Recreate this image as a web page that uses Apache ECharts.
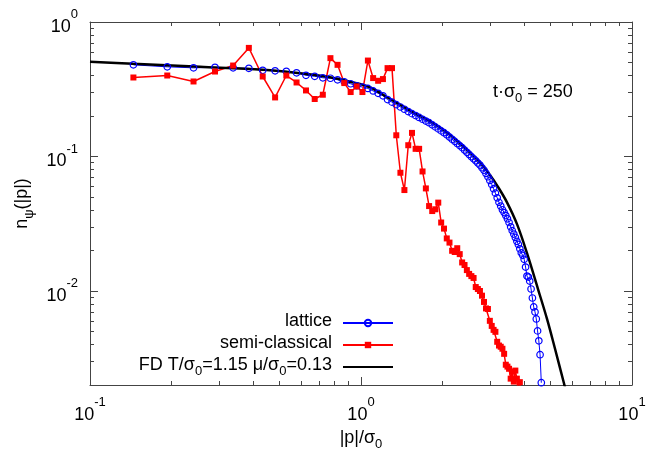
<!DOCTYPE html>
<html>
<head>
<meta charset="utf-8">
<script src="https://cdn.jsdelivr.net/npm/echarts@6/dist/echarts.min.js"></script>
<style>
  html, body { margin: 0; padding: 0; background: #fff; }
  #chart { width: 662px; height: 463px; }
</style>
</head>
<body>
<div id="chart"></div>
<script>
  // momentum bins |p|/sigma0 shared by lattice and semi-classical data
  var pBins = [
    0.1446, 0.1928, 0.241, 0.2892, 0.3374, 0.3856, 0.4338, 0.482, 0.5302, 0.5784,
    0.6266, 0.6748, 0.723, 0.7712, 0.8194, 0.8676, 0.9158, 0.964, 1.0122, 1.0604,
    1.1086, 1.1568, 1.205, 1.2532, 1.3014, 1.3496, 1.3978, 1.446, 1.4942, 1.5424,
    1.5906, 1.6388, 1.687, 1.7352, 1.7834, 1.8316, 1.8798, 1.928, 1.9762, 2.0244,
    2.0726, 2.1208, 2.169, 2.2172, 2.2654, 2.3136, 2.3618, 2.41, 2.4582, 2.5064,
    2.5546, 2.6028, 2.651, 2.6992, 2.7474, 2.7956, 2.8438, 2.892, 2.9402, 2.9884,
    3.0366, 3.0848, 3.133, 3.1812, 3.2294, 3.2776, 3.3258, 3.374, 3.4222, 3.4704,
    3.5186, 3.5668, 3.615, 3.6632, 3.7114, 3.7596, 3.8078, 3.856, 3.9042, 3.9524,
    4.0006, 4.0488, 4.097, 4.1452, 4.1934, 4.2416, 4.2898, 4.338, 4.3862, 4.4344,
    4.4826, 4.5308, 4.579, 4.6272
  ];

  // lattice n(|p|)
  var latticeVals = [
    0.4803, 0.4642, 0.4563, 0.4603, 0.4563, 0.4524, 0.4372, 0.4335, 0.4298, 0.4190,
    0.4015, 0.3948, 0.3848, 0.3816, 0.3719, 0.3594, 0.3473, 0.3357, 0.3284, 0.3206,
    0.3072, 0.2949, 0.2826, 0.2652, 0.2536, 0.2430, 0.2334, 0.2245, 0.2159, 0.2083,
    0.2016, 0.1952, 0.1892, 0.1835, 0.1783, 0.1720, 0.1660, 0.1604, 0.1550, 0.1503,
    0.1450, 0.1395, 0.1343, 0.1296, 0.1249, 0.1205, 0.1164, 0.1117, 0.1074, 0.1036,
    0.0997, 0.0961, 0.0929, 0.0895, 0.0864, 0.0825, 0.0790, 0.0748, 0.0707, 0.0664,
    0.0620, 0.0576, 0.0534, 0.0493, 0.0456, 0.0428, 0.0402, 0.0383, 0.0364, 0.0344,
    0.0323, 0.0300, 0.0281, 0.0265, 0.0250, 0.0234, 0.0222, 0.0206, 0.0192, 0.0184,
    0.0172, 0.01506, 0.01292, 0.01270, 0.01186, 0.01035, 0.00887, 0.00761, 0.00699, 0.00620,
    0.00505, 0.00426, 0.00336, 0.00208
  ];

  // semi-classical n(|p|), first 79 bins
  var semiVals = [
    0.3867, 0.4001, 0.3612, 0.4283, 0.4746, 0.6419, 0.3934, 0.2749, 0.4001, 0.3551,
    0.3098, 0.2676, 0.2879, 0.5385, 0.4803, 0.3515, 0.3015, 0.3317, 0.3015, 0.5168,
    0.3828, 0.3656, 0.3763, 0.4540, 0.4540, 0.1438, 0.0757, 0.0563, 0.1213, 0.1498,
    0.1140, 0.1140, 0.0774, 0.0579, 0.0428, 0.0393, 0.0405, 0.0454, 0.0323, 0.0291,
    0.0246, 0.0229, 0.0199, 0.0195, 0.0208, 0.0188, 0.0163, 0.0156, 0.0143, 0.0134,
    0.0129, 0.0125, 0.0107, 0.01034, 0.0100, 0.00923, 0.00829, 0.00742, 0.00735, 0.00600,
    0.00550, 0.00514, 0.00497, 0.00419, 0.00393, 0.00385, 0.00372, 0.00341, 0.00283, 0.00274,
    0.00264, 0.00223, 0.00251, 0.00212, 0.00256, 0.00223, 0.0017, 0.0021, 0.0016
  ];

  // Fermi-Dirac fit curve
  var fdP = [0.1, 0.1441, 0.2546, 0.435, 0.5955, 0.768, 0.911, 1.079, 1.258, 1.555,
    1.798, 2.076, 2.378, 2.749, 2.992, 3.203, 3.457, 3.764, 4.098, 4.499,
    4.857, 5.199, 5.613, 5.71];
  var fdVals = [0.5056, 0.4885, 0.464, 0.4411, 0.4154, 0.3880, 0.3594, 0.3272, 0.2735, 0.2136,
    0.1832, 0.1506, 0.1196, 0.0903, 0.0729, 0.0594, 0.0456, 0.0314, 0.0191, 0.01034,
    0.0062, 0.00372, 0.00205, 0.00182];

  // tick positions
  var xMajor = [0.1, 1, 10];
  var xMinor = [0.2, 0.3, 0.4, 0.5, 0.6, 0.7, 0.8, 0.9, 2, 3, 4, 5, 6, 7, 8, 9];
  var yMajor = [0.01, 0.1, 1];
  var yMinor = [0.003, 0.004, 0.005, 0.006, 0.007, 0.008, 0.009,
    0.02, 0.03, 0.04, 0.05, 0.06, 0.07, 0.08, 0.09,
    0.2, 0.3, 0.4, 0.5, 0.6, 0.7, 0.8, 0.9];

  var FONT = "'Liberation Sans', Arial, Helvetica, sans-serif";
  var BORDER = '#444';
  var FD_NAME = 'FD T/σ0=1.15 μ/σ0=0.13';

  var supRich = {
    b: { fontFamily: FONT, fontSize: 18, lineHeight: 28, verticalAlign: 'bottom', color: '#000' },
    s: { fontFamily: FONT, fontSize: 13, lineHeight: 12, verticalAlign: 'top', color: '#000' }
  };
  var subRich = {
    t: { fontFamily: FONT, fontSize: 18, lineHeight: 22, verticalAlign: 'top', color: '#000', fill: '#000' },
    u: { fontFamily: FONT, fontSize: 13, lineHeight: 13, padding: [9, 0, 0, 0], verticalAlign: 'top', color: '#000', fill: '#000' },
    g: { fontFamily: FONT, fontSize: 18, lineHeight: 22, width: 6 }
  };
  var legendLabels = {
    'lattice': '{t|lattice}{g| }',
    'semi-classical': '{t|semi-classical}{g| }'
  };
  legendLabels[FD_NAME] = '{t|FD T/σ}{u|0}{t|=1.15 μ/σ}{u|0}{t|=0.13}{g| }';

  function powLabel(v) {
    var e = Math.round(Math.log(v) / Math.LN10);
    return '{b|10}{s|' + e + '}';
  }

  function zip(xs, ys) {
    var out = [];
    for (var i = 0; i < ys.length; i++) out.push([xs[i], ys[i]]);
    return out;
  }

  function xAxisDef(grid, pos, ticks, len, line) {
    return {
      type: 'log', logBase: 10, min: 0.1, max: 10, gridIndex: grid, position: pos,
      axisLine: { show: line, onZero: false, lineStyle: { color: BORDER, width: 1 } },
      axisTick: { show: true, inside: true, length: len, customValues: ticks, lineStyle: { color: BORDER, width: 1 } },
      axisLabel: { show: false },
      splitLine: { show: false }
    };
  }
  function yAxisDef(grid, pos, ticks, len, line) {
    return {
      type: 'log', logBase: 10, min: 0.002, max: 1, gridIndex: grid, position: pos,
      axisLine: { show: line, onZero: false, lineStyle: { color: BORDER, width: 1 } },
      axisTick: { show: true, inside: true, length: len, customValues: ticks, lineStyle: { color: BORDER, width: 1 } },
      axisLabel: { show: false },
      splitLine: { show: false }
    };
  }

  var xMain = xAxisDef(0, 'bottom', xMajor, 8, true);
  xMain.axisLabel = { show: true, customValues: xMajor, formatter: powLabel, margin: 11, rich: supRich };
  xMain.name = '{t||p|/σ}{u|0}';
  xMain.nameLocation = 'middle';
  xMain.nameGap = 39;
  xMain.nameTextStyle = { fontFamily: FONT, fontSize: 18, color: '#000', rich: subRich };

  var yMain = yAxisDef(0, 'left', yMajor, 8, true);
  yMain.axisLabel = { show: true, customValues: yMajor, formatter: powLabel, margin: 12, rich: supRich };
  yMain.name = '{t|n}{u|ψ}{t|(|p|)}';
  yMain.nameLocation = 'middle';
  yMain.nameGap = 52;
  yMain.nameTextStyle = { fontFamily: FONT, fontSize: 18, color: '#000', rich: subRich };

  var chart = echarts.init(document.getElementById('chart'));
  var option = {
    animation: false,
    backgroundColor: '#fff',
    grid: [
      { left: 90, right: 30, top: 22, bottom: 78 },
      { left: 90, right: 30, top: 22, bottom: 78 }
    ],
    xAxis: [
      xMain,
      xAxisDef(0, 'top', xMajor, 8, true),
      xAxisDef(1, 'bottom', xMinor, 4, false),
      xAxisDef(1, 'top', xMinor, 4, false)
    ],
    yAxis: [
      yMain,
      yAxisDef(0, 'right', yMajor, 8, true),
      yAxisDef(1, 'left', yMinor, 4, false),
      yAxisDef(1, 'right', yMinor, 4, false)
    ],
    legend: {
      orient: 'vertical',
      align: 'right',
      right: 268,
      top: 312,
      padding: 0,
      itemWidth: 50,
      itemHeight: 8,
      itemGap: 2,
      selectedMode: false,
      data: [
        'lattice',
        'semi-classical',
        { name: FD_NAME, itemStyle: { color: 'rgba(0,0,0,0)', borderWidth: 0 } }
      ],
      formatter: function (name) { return legendLabels[name]; },
      textStyle: { fontFamily: FONT, fontSize: 18, color: '#000', rich: subRich }
    },
    graphic: [{
      type: 'text',
      left: 493,
      top: 83,
      style: {
        text: '{t|t·σ}{u|0}{t| = 250}',
        rich: subRich,
        fontFamily: FONT,
        fontSize: 18,
        fill: '#000'
      }
    }],
    series: [
      {
        name: 'lattice',
        type: 'line',
        xAxisIndex: 0,
        yAxisIndex: 0,
        data: zip(pBins, latticeVals),
        symbol: 'circle',
        symbolSize: 6.5,
        lineStyle: { color: '#0000ff', width: 1 },
        itemStyle: { color: 'rgba(255,255,255,0)', borderColor: '#0000ff', borderWidth: 1.2 },
        clip: true
      },
      {
        name: 'semi-classical',
        type: 'line',
        xAxisIndex: 0,
        yAxisIndex: 0,
        data: zip(pBins, semiVals),
        symbol: 'rect',
        symbolSize: 6,
        lineStyle: { color: '#ff0000', width: 1.5 },
        itemStyle: { color: '#ff0000' },
        clip: true
      },
      {
        name: FD_NAME,
        type: 'line',
        xAxisIndex: 0,
        yAxisIndex: 0,
        data: zip(fdP, fdVals),
        symbol: 'none',
        smooth: 0.35,
        lineStyle: { color: '#000', width: 2.5 },
        itemStyle: { color: '#000' },
        clip: true
      }
    ]
  };
  chart.setOption(option);
</script>
</body>
</html>
